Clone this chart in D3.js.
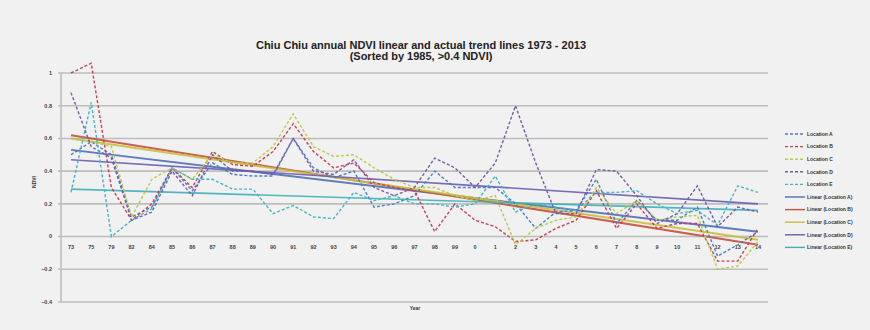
<!DOCTYPE html>
<html><head><meta charset="utf-8">
<script src="https://cdn.jsdelivr.net/npm/d3@7"></script>
<style>
html,body{margin:0;padding:0;background:#f1f1f1;}
svg{display:block;font-family:"Liberation Sans",Arial,sans-serif;}
</style></head><body>
<svg id="chart" width="870" height="330"></svg>
<script>
// ---- data ----
const yearLabels = ["73","75","79","82","84","85","86","87","88","89","90","91","92","93","94","95","96","97","98","99","0","1","2","3","4","5","6","7","8","9","10","11","12","13","14"];
const locationA = [0.50,0.58,0.50,0.12,0.18,0.42,0.28,0.45,0.38,0.37,0.37,0.60,0.42,0.36,0.40,0.18,0.20,0.25,0.40,0.30,0.30,0.30,0.20,0.05,0.15,0.16,0.35,0.08,0.22,0.10,0.10,0.18,-0.12,-0.05,0.03];
const locationB = [1.00,1.06,0.30,0.10,0.20,0.42,0.30,0.52,0.44,0.43,0.52,0.69,0.52,0.42,0.45,0.33,0.30,0.28,0.03,0.20,0.10,0.06,-0.03,-0.02,0.05,0.10,0.28,0.05,0.20,0.05,0.08,0.08,-0.15,-0.15,0.05];
const locationC = [0.60,0.58,0.55,0.12,0.35,0.42,0.35,0.50,0.45,0.45,0.55,0.75,0.55,0.49,0.50,0.42,0.35,0.30,0.30,0.25,0.22,0.25,-0.05,0.05,0.10,0.12,0.30,0.14,0.22,0.10,0.12,0.13,-0.20,-0.18,-0.03];
const locationD = [0.88,0.55,0.48,0.10,0.15,0.40,0.25,0.50,0.40,0.40,0.38,0.60,0.40,0.38,0.47,0.30,0.25,0.30,0.48,0.42,0.30,0.45,0.80,0.45,0.14,0.14,0.41,0.40,0.25,0.08,0.14,0.31,0.06,0.18,0.15];
const locationE = [0.27,0.82,0.00,0.10,0.17,0.42,0.35,0.35,0.29,0.29,0.14,0.19,0.12,0.11,0.27,0.22,0.25,0.20,0.20,0.18,0.20,0.37,0.15,0.20,0.18,0.16,0.27,0.27,0.28,0.20,0.14,0.16,0.07,0.31,0.27];
const seriesNames = ["Location A","Location B","Location C","Location D","Location E"];
const trendNames = ["Linear (Location A)","Linear (Location B)","Linear (Location C)","Linear (Location D)","Linear (Location E)"];
const trendStart = [0.53,0.62,0.60,0.47,0.29];
const trendEnd   = [0.03,-0.05,-0.02,0.20,0.16];
const yTicks = [1,0.8,0.6,0.4,0.2,0,-0.2,-0.4];
const titleLines = ["Chiu Chiu annual NDVI linear and actual trend lines 1973 - 2013","(Sorted by 1985, >0.4 NDVI)"];

// ---- drawing ----
const colors = ["#4a7fc4","#c8405a","#b9cc4a","#7a5aa8","#46b4c8"];
const trendColors = ["#4f6fb8","#c4503e","#c8bf3c","#6a5cb0","#3fb0b8"];
const series = [locationA,locationB,locationC,locationD,locationE];
const svg = d3.select("#chart");

const x = d3.scalePoint().domain(d3.range(yearLabels.length)).range([71,758]);
const y = d3.scaleLinear().domain([-0.4,1]).range([302,73]);
const left = 61, right = 768;

// gridlines
svg.append("g").selectAll("line").data(yTicks).join("line")
  .attr("x1",left-3).attr("x2",right).attr("y1",d=>y(d)).attr("y2",d=>y(d))
  .attr("stroke","#bdbdbd").attr("stroke-width",1.6);
// y axis line
svg.append("line").attr("x1",left).attr("x2",left).attr("y1",y(1)).attr("y2",y(-0.4))
  .attr("stroke","#bdbdbd").attr("stroke-width",1.6);

// y tick labels
svg.append("g").selectAll("text").data(yTicks).join("text")
  .attr("x",52).attr("y",d=>y(d)+1.8).attr("text-anchor","end")
  .attr("font-size",5.5).attr("font-weight","bold").attr("fill","#444")
  .text(d=>d3.format("")(d));

// x tick labels
svg.append("g").selectAll("text").data(yearLabels).join("text")
  .attr("x",(d,i)=>x(i)).attr("y",y(0)+12).attr("text-anchor","middle")
  .attr("font-size",5.5).attr("font-weight","bold").attr("fill","#444")
  .text(d=>d);

// trend lines
const tl = trendStart.map((s,i)=>[[0,s],[yearLabels.length-1,trendEnd[i]]]);
svg.append("g").selectAll("path").data(tl).join("path")
  .attr("d",d3.line().x(d=>x(d[0])).y(d=>y(d[1])))
  .attr("fill","none").attr("stroke",(d,i)=>trendColors[i]).attr("stroke-width",(d,i)=>i<3?2:1.6)
  .attr("opacity",0.9);

// data lines
const line = d3.line().x((d,i)=>x(i)).y(d=>y(d));
svg.append("g").selectAll("path").data(series).join("path")
  .attr("d",line).attr("fill","none").attr("stroke",(d,i)=>colors[i])
  .attr("stroke-width",1.4).attr("stroke-dasharray","3,2");

// title
svg.append("g").selectAll("text").data(titleLines).join("text")
  .attr("x",421).attr("y",(d,i)=>49+i*10.5).attr("text-anchor","middle")
  .attr("font-size",11).attr("font-weight","bold").attr("fill","#222").text(d=>d);

// axis titles
svg.append("text").attr("transform","translate(36,182) rotate(-90)").attr("text-anchor","middle")
  .attr("font-size",5).attr("font-weight","bold").attr("fill","#333").text("NDVI");
svg.append("text").attr("x",415).attr("y",310).attr("text-anchor","middle")
  .attr("font-size",5).attr("font-weight","bold").attr("fill","#333").text("Year");

// legend
const legItems = seriesNames.map((n,i)=>({n,c:colors[i],dash:true})).concat(trendNames.map((n,i)=>({n,c:trendColors[i],dash:false})));
const lg = svg.append("g").selectAll("g").data(legItems).join("g")
  .attr("transform",(d,i)=>`translate(785,${134+i*12.6})`);
lg.append("line").attr("x1",0).attr("x2",20).attr("y1",0).attr("y2",0)
  .attr("stroke",d=>d.c).attr("stroke-width",1.4).attr("stroke-dasharray",d=>d.dash?"3,2":null);
lg.append("text").attr("x",22).attr("y",1.8).attr("font-size",5).attr("font-weight","bold").attr("fill","#333").text(d=>d.n);
</script>
</body></html>
